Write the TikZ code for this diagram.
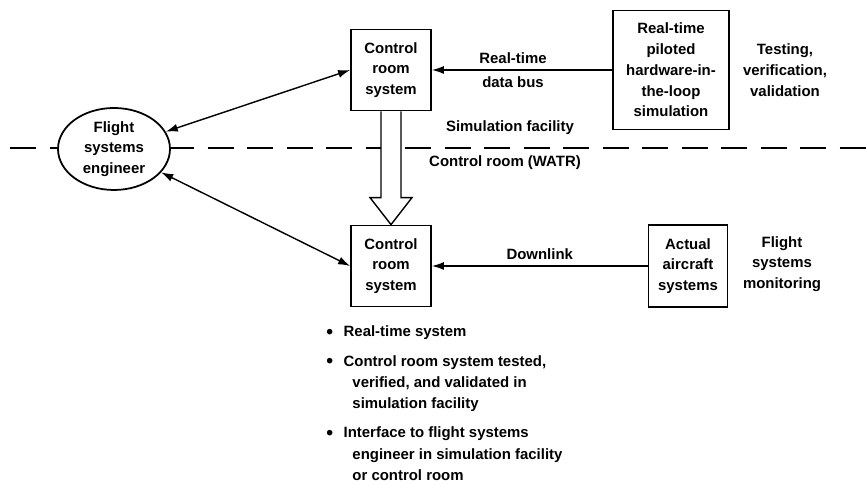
\documentclass[tikz,border=0pt]{standalone}
\usepackage{fontspec}
\setmainfont{Liberation Sans}
\usetikzlibrary{arrows.meta,calc,shapes.geometric}
\newcommand{\bigbullet}{\raisebox{-1pt}{\fontsize{11}{11}\selectfont\textbullet}}
\begin{document}
\begin{tikzpicture}
        [every node/.style={font=\bfseries\fontsize{8.5}{11.8}\selectfont},
         sysbox/.style={draw=black, line width=1pt, align=center, inner sep=2pt, fill=white},
         link/.style={line width=0.8pt, -{Latex[length=2.4mm,width=1.6mm]}},
         twoway/.style={line width=0.8pt, {Latex[length=2.4mm,width=1.6mm]}-{Latex[length=2.4mm,width=1.6mm]}}]
        \useasboundingbox (0,0) rectangle (17.34,9.68);
        % boundary between simulation facility and control room
        \draw [line width=0.8pt, dash pattern=on 0.52cm off 0.27cm] (0.2,6.72) -- (17.34,6.72);
        \node [align=center] (simlbl) at (10.2,7.12) {Simulation facility};
        \node [align=center] (roomlbl) at (10.1,6.42) {Control room (WATR)};
        % upper row
        \node [sysbox, minimum width=1.6cm, minimum height=1.62cm] (ctrltop) at (7.82,8.28) {Control\\room\\system};
        \node [sysbox, minimum width=2.32cm, minimum height=2.38cm] (sim) at (13.42,8.28) {Real-time\\piloted\\hardware-in-\\the-loop\\simulation};
        \node [align=center] (testlbl) at (15.7,8.28) {Testing,\\verification,\\validation};
        % lower row
        \node [sysbox, minimum width=1.6cm, minimum height=1.62cm] (ctrlbot) at (7.82,4.36) {Control\\room\\system};
        \node [sysbox, minimum width=1.58cm, minimum height=1.64cm] (aircraft) at (13.76,4.36) {Actual\\aircraft\\systems};
        \node [align=center] (monlbl) at (15.64,4.4) {Flight\\systems\\monitoring};
        % engineer
        \node [ellipse, draw=black, line width=1pt, fill=white, align=center, inner sep=0pt,
               minimum width=2.24cm, minimum height=1.64cm] (eng) at (2.28,6.7) {Flight\\systems\\engineer};
        % connectors
        \draw [link] (sim) -- node [above, pos=0.55] (buslbl) {Real-time} node [below, pos=0.55] (buslbl2) {data bus} (ctrltop);
        \draw [link] (aircraft) -- node [above, pos=0.5] (downlbl) {Downlink} (ctrlbot);
        \draw [twoway] (eng) -- (ctrltop.west);
        \draw [twoway] (eng) -- (ctrlbot.west);
        % hollow transfer arrow
        \draw [line width=0.8pt, fill=white] ($(ctrltop.south)+(-0.2,0)$) -- ($(ctrlbot.north)+(-0.2,0.54)$) -- ++(-0.22,0)
              -- (ctrlbot.north) -- ($(ctrlbot.north)+(0.42,0.54)$) -- ++(-0.22,0) -- ($(ctrltop.south)+(0.2,0)$);
        \node [anchor=base west, inner sep=0pt, font=\bfseries\fontsize{8.5}{12.1}\selectfont] (notes) at (6.52,2.94)
              {\begin{tabular}[t]{@{}l@{\hspace{6pt}}l@{}}
                 \bigbullet & Real-time system\\[4.5pt]
                 \bigbullet & Control room system tested,\\
                            & \hspace{5pt}verified, and validated in\\
                            & \hspace{5pt}simulation facility\\[4.5pt]
                 \bigbullet & Interface to flight systems\\
                            & \hspace{5pt}engineer in simulation facility\\
                            & \hspace{5pt}or control room
               \end{tabular}};
    \end{tikzpicture}
\end{document}
